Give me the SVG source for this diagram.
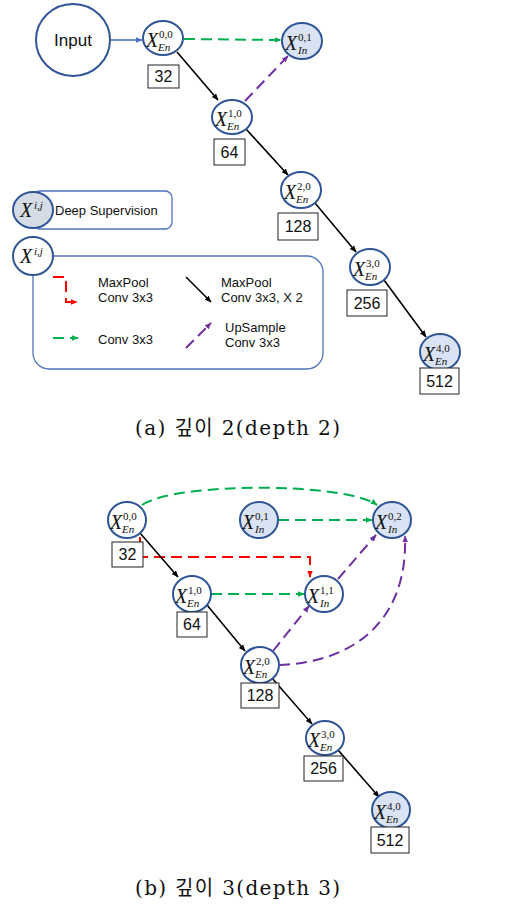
<svg xmlns="http://www.w3.org/2000/svg" width="505" height="907" viewBox="0 0 505 907">
<style>
.node{fill:#ffffff;stroke:#2f5597;stroke-width:2}
.fill{fill:#dae3f3}
.box{fill:#ffffff;stroke:#222;stroke-width:1}
.num{font-family:"Liberation Sans",Arial,sans-serif;font-size:16px;fill:#111;text-anchor:middle}
.mx{font-family:"Liberation Serif","DejaVu Serif",serif;font-style:italic;font-size:20px;fill:#111}
.sup{font-family:"Liberation Serif","DejaVu Serif",serif;font-size:11px;fill:#111}
.sub{font-family:"Liberation Serif","DejaVu Serif",serif;font-style:italic;font-size:11px;fill:#111}
.lg{font-family:"Liberation Sans",Arial,sans-serif;font-size:13px;fill:#111}
.cap{font-family:"DejaVu Serif","Noto Sans CJK KR",serif;font-size:20px;fill:#111}
.k{stroke:#000;stroke-width:1.6;fill:none}
.g{stroke:#00b050;stroke-width:2;fill:none;stroke-dasharray:11 6}
.p{stroke:#7030a0;stroke-width:2;fill:none;stroke-dasharray:11 6}
.r{stroke:#ff0000;stroke-width:2;fill:none;stroke-dasharray:11 6}
.b{stroke:#4472c4;stroke-width:1.6;fill:none}
</style>
<defs>
<marker id="ak" viewBox="0 0 10 10" refX="9" refY="5" markerWidth="7" markerHeight="7" orient="auto" markerUnits="userSpaceOnUse"><path d="M0,1 L10,5 L0,9 z" fill="#000"/></marker>
<marker id="ag" viewBox="0 0 10 10" refX="9" refY="5" markerWidth="7" markerHeight="7" orient="auto" markerUnits="userSpaceOnUse"><path d="M0,1 L10,5 L0,9 z" fill="#00b050"/></marker>
<marker id="ap" viewBox="0 0 10 10" refX="9" refY="5" markerWidth="7" markerHeight="7" orient="auto" markerUnits="userSpaceOnUse"><path d="M0,1 L10,5 L0,9 z" fill="#7030a0"/></marker>
<marker id="ar" viewBox="0 0 10 10" refX="9" refY="5" markerWidth="7" markerHeight="7" orient="auto" markerUnits="userSpaceOnUse"><path d="M0,1 L10,5 L0,9 z" fill="#ff0000"/></marker>
<marker id="ab" viewBox="0 0 10 10" refX="9" refY="5" markerWidth="7" markerHeight="7" orient="auto" markerUnits="userSpaceOnUse"><path d="M0,1 L10,5 L0,9 z" fill="#4472c4"/></marker>
</defs>
<rect width="505" height="907" fill="#ffffff"/>

<g id="connectors">
<!-- (a) -->
<line class="b" x1="110" y1="40" x2="142" y2="40" marker-end="url(#ab)"/>
<line class="g" x1="184" y1="39" x2="281" y2="40" marker-end="url(#ag)"/>
<line class="k" x1="177" y1="52" x2="218" y2="100" marker-end="url(#ak)"/>
<line class="p" x1="245" y1="101" x2="288" y2="56" marker-end="url(#ap)"/>
<line class="k" x1="246" y1="129" x2="288" y2="175" marker-end="url(#ak)"/>
<line class="k" x1="315" y1="203" x2="356" y2="252" marker-end="url(#ak)"/>
<line class="k" x1="384" y1="280" x2="426" y2="337" marker-end="url(#ak)"/>
<!-- (b) -->
<path class="g" d="M142,505 C175,482 345,482 377,505" marker-end="url(#ag)"/>
<line class="g" x1="278" y1="520" x2="372" y2="520" marker-end="url(#ag)"/>
<path class="r" d="M140,537 V557 H310 V577" marker-end="url(#ar)"/>
<line class="k" x1="140" y1="533" x2="178" y2="577" marker-end="url(#ak)"/>
<line class="g" x1="211" y1="594" x2="304" y2="594" marker-end="url(#ag)"/>
<line class="p" x1="338" y1="579" x2="376" y2="535" marker-end="url(#ap)"/>
<line class="p" x1="273" y1="651" x2="309" y2="606" marker-end="url(#ap)"/>
<path class="p" d="M279,665 C360,662 408,615 405,536" marker-end="url(#ap)"/>
<line class="k" x1="207" y1="605" x2="245" y2="651" marker-end="url(#ak)"/>
<line class="k" x1="272" y1="678" x2="312" y2="724" marker-end="url(#ak)"/>
<line class="k" x1="338" y1="750" x2="379" y2="797" marker-end="url(#ak)"/>
</g>

<!-- (a) nodes -->
<g id="a-input">
<ellipse class="node" cx="73" cy="40" rx="37" ry="36"/>
<text x="73" y="46" font-family="'Liberation Sans',Arial,sans-serif" font-size="17" text-anchor="middle" fill="#111">Input</text>
</g>
<g id="a-x00">
<ellipse class="node" cx="163" cy="38" rx="20" ry="17"/>
<text class="mx" x="146" y="47">X</text><text class="sup" x="159" y="38">0,0</text><text class="sub" x="158" y="51">En</text>
<rect class="box" x="148" y="65" width="31" height="23"/><text class="num" x="163.5" y="82">32</text>
</g>
<g id="a-x01">
<ellipse class="node fill" cx="302" cy="41" rx="20" ry="18"/>
<text class="mx" x="285" y="50">X</text><text class="sup" x="298" y="41">0,1</text><text class="sub" x="298" y="54">In</text>
</g>
<g id="a-x10">
<ellipse class="node" cx="232" cy="117" rx="20" ry="17"/>
<text class="mx" x="215" y="126">X</text><text class="sup" x="228" y="117">1,0</text><text class="sub" x="227" y="130">En</text>
<rect class="box" x="214" y="139" width="31" height="26"/><text class="num" x="229.5" y="158">64</text>
</g>
<g id="a-x20">
<ellipse class="node" cx="301" cy="190" rx="20" ry="18"/>
<text class="mx" x="284" y="199">X</text><text class="sup" x="297" y="190">2,0</text><text class="sub" x="296" y="203">En</text>
<rect class="box" x="278" y="213" width="40" height="27"/><text class="num" x="298" y="232">128</text>
</g>
<g id="a-x30">
<ellipse class="node" cx="370" cy="267" rx="20" ry="18"/>
<text class="mx" x="353" y="276">X</text><text class="sup" x="366" y="267">3,0</text><text class="sub" x="365" y="280">En</text>
<rect class="box" x="347" y="290" width="40" height="26"/><text class="num" x="367" y="309">256</text>
</g>
<g id="a-x40">
<ellipse class="node fill" cx="440" cy="352" rx="20" ry="18"/>
<text class="mx" x="423" y="361">X</text><text class="sup" x="436" y="352">4,0</text><text class="sub" x="435" y="365">En</text>
<rect class="box" x="420" y="368" width="39" height="26"/><text class="num" x="439.5" y="387">512</text>
</g>

<!-- legend -->
<g id="legend-ds">
<rect x="33" y="191" width="139" height="38" rx="7" fill="#fff" stroke="#4f75bd" stroke-width="1.3"/>
<ellipse cx="33" cy="210" rx="20" ry="18" fill="#d6dce5" stroke="#2f5597" stroke-width="2"/>
<text class="mx" x="20" y="217" font-size="19">X</text><text class="sup" x="34" y="209" font-style="italic" font-size="12">i,j</text>
<text class="lg" x="55" y="215">Deep Supervision</text>
</g>
<g id="legend-ops">
<rect x="33" y="256" width="290" height="113" rx="16" fill="#fff" stroke="#4f75bd" stroke-width="1.3"/>
<ellipse cx="33" cy="256" rx="20" ry="19" fill="#fff" stroke="#2f5597" stroke-width="2"/>
<text class="mx" x="20" y="263" font-size="19">X</text><text class="sup" x="34" y="255" font-style="italic" font-size="12">i,j</text>
<path class="r" stroke-dasharray="9 5" d="M53,277 H66 V302 H77" marker-end="url(#ar)"/>
<text class="lg" x="98" y="287">MaxPool</text><text class="lg" x="98" y="302">Conv 3x3</text>
<line class="k" x1="186" y1="277" x2="211" y2="302" marker-end="url(#ak)"/>
<text class="lg" x="221" y="287">MaxPool</text><text class="lg" x="221" y="302">Conv 3x3, X 2</text>
<line class="g" stroke-dasharray="13 6" x1="53" y1="338" x2="78" y2="338" marker-end="url(#ag)"/>
<text class="lg" x="98" y="344">Conv 3x3</text>
<line class="p" stroke-dasharray="9 5" x1="186" y1="348" x2="211" y2="323" marker-end="url(#ap)"/>
<text class="lg" x="225" y="332">UpSample</text><text class="lg" x="225" y="347">Conv 3x3</text>
</g>

<text id="cap-a" class="cap" x="135" y="435" textLength="205" lengthAdjust="spacing">(a) 깊이 2(depth 2)</text>

<!-- (b) nodes -->
<g id="b-x00">
<ellipse class="node" cx="127" cy="520" rx="19" ry="18"/>
<text class="mx" x="110" y="529">X</text><text class="sup" x="123" y="520">0,0</text><text class="sub" x="122" y="533">En</text>
<rect class="box" x="112" y="542" width="31" height="25"/><text class="num" x="127.5" y="560">32</text>
</g>
<g id="b-x01">
<ellipse class="node fill" cx="259" cy="520" rx="19" ry="18"/>
<text class="mx" x="242" y="529">X</text><text class="sup" x="255" y="520">0,1</text><text class="sub" x="255" y="533">In</text>
</g>
<g id="b-x02">
<ellipse class="node fill" cx="392" cy="520" rx="19" ry="18"/>
<text class="mx" x="375" y="529">X</text><text class="sup" x="388" y="520">0,2</text><text class="sub" x="388" y="533">In</text>
</g>
<g id="b-x10">
<ellipse class="node" cx="192" cy="594" rx="19" ry="18"/>
<text class="mx" x="175" y="603">X</text><text class="sup" x="188" y="594">1,0</text><text class="sub" x="187" y="607">En</text>
<rect class="box" x="177" y="612" width="30" height="25"/><text class="num" x="192" y="630">64</text>
</g>
<g id="b-x11">
<ellipse class="node" cx="324" cy="594" rx="19" ry="18"/>
<text class="mx" x="307" y="603">X</text><text class="sup" x="320" y="594">1,1</text><text class="sub" x="320" y="607">In</text>
</g>
<g id="b-x20">
<ellipse class="node" cx="260" cy="665" rx="19" ry="18"/>
<text class="mx" x="243" y="674">X</text><text class="sup" x="256" y="665">2,0</text><text class="sub" x="255" y="678">En</text>
<rect class="box" x="241" y="683" width="38" height="25"/><text class="num" x="260" y="701">128</text>
</g>
<g id="b-x30">
<ellipse class="node" cx="325" cy="738" rx="19" ry="17"/>
<text class="mx" x="308" y="747">X</text><text class="sup" x="321" y="738">3,0</text><text class="sub" x="320" y="751">En</text>
<rect class="box" x="304" y="756" width="39" height="25"/><text class="num" x="323.5" y="774">256</text>
</g>
<g id="b-x40">
<ellipse class="node fill" cx="391" cy="810" rx="19" ry="18"/>
<text class="mx" x="374" y="819">X</text><text class="sup" x="387" y="810">4,0</text><text class="sub" x="386" y="823">En</text>
<rect class="box" x="371" y="827" width="38" height="26"/><text class="num" x="390" y="846">512</text>
</g>

<text id="cap-b" class="cap" x="135" y="895" textLength="205" lengthAdjust="spacing">(b) 깊이 3(depth 3)</text>
</svg>
